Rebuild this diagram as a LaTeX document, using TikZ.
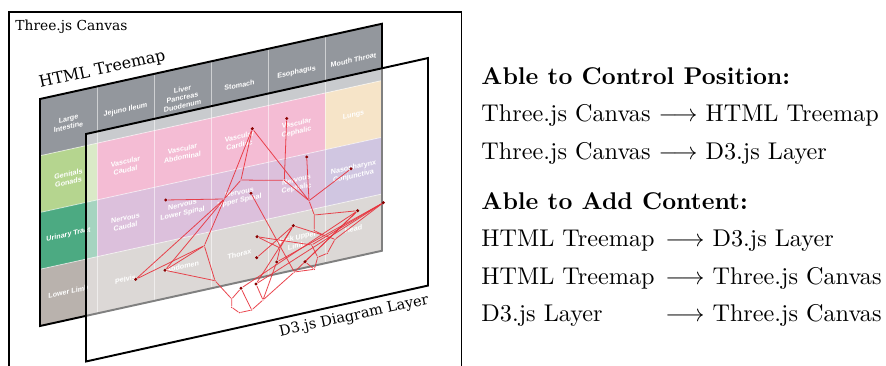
\documentclass[tikz,border=0pt]{standalone}
\usepackage{fontspec}
\newfontfamily\lblfont{DejaVu Serif}
\newfontfamily\cellfont{Liberation Sans}
\pgfdeclarelayer{front}
\pgfsetlayers{main,front}
\definecolor{hdr}{RGB}{147,151,157}
\definecolor{genit}{RGB}{181,213,143}
\definecolor{urin}{RGB}{76,170,130}
\definecolor{limb}{RGB}{185,178,173}
\definecolor{vasc}{RGB}{233,121,169}
\definecolor{nerv}{RGB}{185,129,185}
\definecolor{naso}{RGB}{161,141,195}
\definecolor{lung}{RGB}{237,201,145}
\definecolor{edgered}{RGB}{232,50,60}
\definecolor{dotred}{RGB}{140,0,0}
\tikzset{
  cell/.style={transform shape, font=\cellfont\bfseries\fontsize{2.95}{3.5}\selectfont, text=white, align=center, inner sep=0pt},
  layerlabel/.style={font=\lblfont\fontsize{5.7}{6.8}\selectfont, anchor=base west, inner sep=0pt},
  gridline/.style={draw=white, draw opacity=0.55, line width=0.35pt},
  frameline/.style={line width=0.8pt},
  edge/.style={draw=edgered, line width=0.33pt, draw opacity=0.9},
  leaf/.style={circle, fill=dotred, inner sep=0pt, minimum size=1.4pt},
  junc/.style={circle, fill=edgered, inner sep=0pt, minimum size=0.6pt},
  rtext/.style={anchor=base west, inner sep=0pt},
}
\begin{document}
\begin{tikzpicture}[x=0.4132pt, y=-0.4132pt]
\useasboundingbox (0,0) rectangle (886,366);
% Three.js canvas frame
\draw[line width=0.62pt] (9,372) -- (9,12) -- (461.5,12) -- (461.5,372);
\node[layerlabel] (canvaslbl) at (15,30.5) {Three.js Canvas};

% HTML treemap
\begin{scope}[shift={(40,99)}, yslant=0.22]
  \fill[hdr] (0,0) rectangle (342,56.75);
  \fill[genit] (0,56.75) rectangle (57,113.5);
  \fill[vasc] (57,56.75) rectangle (285,113.5);
  \fill[lung] (285,56.75) rectangle (342,113.5);
  \fill[urin] (0,113.5) rectangle (57,170.25);
  \fill[nerv] (57,113.5) rectangle (285,170.25);
  \fill[naso] (285,113.5) rectangle (342,170.25);
  \fill[limb] (0,170.25) rectangle (342,227);
  \foreach \u in {57,114,171,228,285} \draw[gridline] (\u,0) -- (\u,227);
  \foreach \v in {56.75,113.5,170.25} \draw[gridline] (0,\v) -- (342,\v);
  \draw[frameline] (0,0) rectangle (342,227);
  \node[cell] (t00) at (28.5,30) {Large\\Intestine};
  \node[cell] (t01) at (85.5,30) {Jejuno Ileum};
  \node[cell] (t02) at (142.5,30) {Liver\\Pancreas\\Duodenum};
  \node[cell] (t03) at (199.5,30) {Stomach};
  \node[cell] (t04) at (256.5,30) {Esophagus};
  \node[cell] (t05) at (313.5,30) {Mouth Throat};
  \node[cell] (t10) at (28.5,85.5) {Genitals\\Gonads};
  \node[cell] (t11) at (85.5,85.5) {Vascular\\Caudal};
  \node[cell] (t12) at (142.5,85.5) {Vascular\\Abdominal};
  \node[cell] (t13) at (199.5,85.5) {Vascular\\Cardiac};
  \node[cell] (t14) at (256.5,85.5) {Vascular\\Cephalic};
  \node[cell] (t15) at (313.5,85.5) {Lungs};
  \node[cell] (t20) at (28.5,142) {Urinary Tract};
  \node[cell] (t21) at (85.5,142) {Nervous\\Caudal};
  \node[cell] (t22) at (142.5,142) {Nervous\\Lower Spinal};
  \node[cell] (t23) at (199.5,142) {Nervous\\Upper Spinal};
  \node[cell] (t24) at (256.5,142) {Nervous\\Cephalic};
  \node[cell] (t25) at (313.5,142) {Nasopharynx\\Conjunctiva};
  \node[cell] (t30) at (28.5,199) {Lower Limb};
  \node[cell] (t31) at (85.5,199) {Pelvis};
  \node[cell] (t32) at (142.5,199) {Abdomen};
  \node[cell] (t33) at (199.5,199) {Thorax};
  \node[cell] (t34) at (256.5,199) {Neck Upper\\Limb};
  \node[cell] (t35) at (313.5,199) {Head};
\end{scope}
\node[layerlabel, font=\lblfont\fontsize{6.6}{7.8}\selectfont, rotate=12.4] (tmlbl) at (40,88) {HTML Treemap};

% D3 layer
\begin{scope}[shift={(86,134)}, yslant=0.222]
  \fill[white, fill opacity=0.5] (0,0) rectangle (342,227.5);
  \draw[frameline] (0,0) rectangle (342,227.5);
\end{scope}
\node[layerlabel, font=\lblfont\fontsize{6.0}{7.2}\selectfont, rotate=12.4] (d3lbl) at (280,336.5) {D3.js Diagram Layer};

% graph nodes
\begin{pgfonlayer}{front}
  \node[leaf] (A) at (252.3,128.7) {};
  \node[leaf] (B) at (286.7,118.5) {};
  \node[leaf] (C) at (306.7,157) {};
  \node[leaf] (D) at (351,168.8) {};
  \node[leaf] (E) at (165.7,200) {};
  \node[leaf] (F) at (251,193.3) {};
  \node[leaf] (G) at (135.7,279.3) {};
  \node[leaf] (H) at (165,270.3) {};
  \node[leaf] (I) at (257,236.7) {};
  \node[leaf] (J) at (256.7,257.7) {};
  \node[leaf] (K) at (293.3,225.7) {};
  \node[leaf] (L) at (357.7,210.7) {};
  \node[leaf] (M) at (383.3,202.7) {};
  \node[leaf] (N) at (276.7,262) {};
  \node[leaf] (O) at (305,261.7) {};
  \node[leaf] (P) at (241,288.3) {};
  \node[leaf] (Q) at (256,284) {};
  \node[junc] (j1) at (241,180) {};
  \node[junc] (j2) at (264,180.3) {};
  \node[junc] (j3) at (284.3,180.3) {};
  \node[junc] (j4) at (224.3,199) {};
  \node[junc] (j5) at (309,200.7) {};
  \node[junc] (x1) at (204.3,245.7) {};
  \node[junc] (x2) at (215,280.7) {};
  \node[junc] (y1) at (314.3,215) {};
  \node[junc] (y2) at (314.3,230.7) {};
  \node[junc] (z1) at (335,239.3) {};
  \node[junc] (z2) at (311.7,245) {};
  \node[junc] (z3) at (324.7,235.7) {};
  \node[junc] (z4) at (327.3,253.3) {};
  \node[junc] (z5) at (317.7,257.3) {};
  \node[junc] (r1) at (294.3,272) {};
  \node[junc] (w1) at (314.3,269.3) {};
  \node[junc] (t1) at (280,248) {};
  \node[junc] (v1) at (263,300) {};
  \node[junc] (v2) at (251.7,310) {};
  \node[junc] (v3) at (239.3,312.7) {};
  \node[junc] (v4) at (231.7,307.3) {};
  \node[junc] (v5) at (231.7,299) {};
\end{pgfonlayer}

% graph edges
\draw[edge] (A) -- (j1);
\draw[edge] (A) -- (j4);
\draw[edge] (A) -- (j5);
\draw[edge] (B) -- (j3);
\draw[edge] (j1) -- (j2) -- (j3);
\draw[edge] (j3) -- (j5);
\draw[edge] (C) -- (j5);
\draw[edge] (D) -- (j5);
\draw[edge] (j1) -- (j4);
\draw[edge] (E) -- (j4);
\draw[edge] (F) -- (r1);
\draw[edge] (G) -- (j4);
\draw[edge] (G) -- (x1);
\draw[edge] (H) -- (j4);
\draw[edge] (H) -- (x1);
\draw[edge] (H) -- (x2);
\draw[edge] (x1) -- (j4);
\draw[edge] (x1) -- (x2);
\draw[edge] (x2) -- (v5);
\draw[edge] (v5) -- (v4) -- (v3) -- (v2) -- (v1);
\draw[edge] (P) -- (v5);
\draw[edge] (P) -- (v2);
\draw[edge] (Q) -- (v1);
\draw[edge] (Q) -- (K);
\draw[edge] (v1) -- (r1);
\draw[edge] (r1) -- (w1);
\draw[edge] (w1) -- (z5) -- (z4) -- (z1) -- (z3) -- (y2) -- (y1) -- (j5);
\draw[edge] (y1) -- (L);
\draw[edge] (z1) -- (M);
\draw[edge] (z2) -- (M);
\draw[edge] (z2) -- (z5);
\draw[edge] (N) -- (M);
\draw[edge] (L) -- (P);
\draw[edge] (L) -- (O);
\draw[edge] (L) -- (r1);
\draw[edge] (Q) -- (M);
\draw[edge] (K) -- (z3);
\draw[edge] (K) -- (t1);
\draw[edge] (t1) -- (I);
\draw[edge] (t1) -- (N);
\draw[edge] (J) -- (K);
\draw[edge] (I) -- (z2);
\draw[edge] (O) -- (w1);
\draw[edge] (v1) -- (N);

% right-hand text
\node[rtext] (h1) at (481,84.5) {\textbf{Able to Control Position:}};
\node[rtext] (l1) at (481,121.5) {Three.js Canvas $\longrightarrow$ HTML Treemap};
\node[rtext] (l2) at (481,159.5) {Three.js Canvas $\longrightarrow$ D3.js Layer};
\node[rtext] (h2) at (481,210) {\textbf{Able to Add Content:}};
\node[rtext] (l3a) at (481,247) {HTML Treemap};
\node[rtext] (l3b) at (665,247) {$\longrightarrow$ D3.js Layer};
\node[rtext] (l4a) at (481,284.5) {HTML Treemap};
\node[rtext] (l4b) at (665,284.5) {$\longrightarrow$ Three.js Canvas};
\node[rtext] (l5a) at (481,322) {D3.js Layer};
\node[rtext] (l5b) at (665,322) {$\longrightarrow$ Three.js Canvas};
\end{tikzpicture}
\end{document}
